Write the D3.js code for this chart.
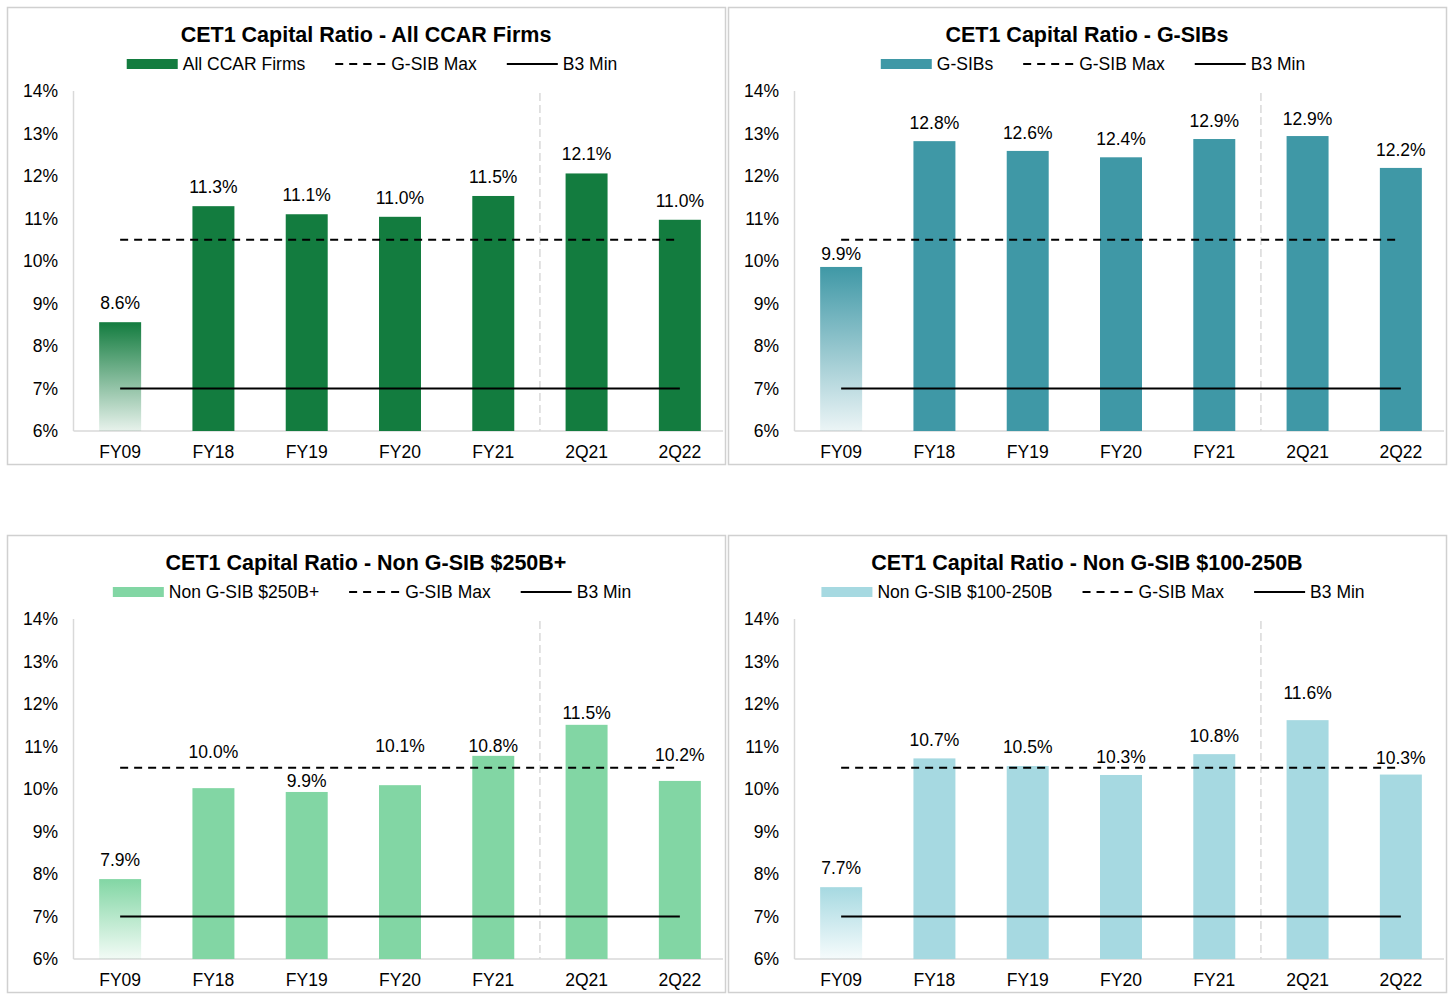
<!DOCTYPE html>
<html>
<head>
<meta charset="utf-8">
<title>CET1 Capital Ratio</title>
<script src="https://d3js.org/d3.v7.min.js"></script>
<style>
  body { margin:0; background:#fff; }
  text { font-family: "Liberation Sans", Arial, sans-serif; fill:#000; }
</style>
</head>
<body>
<script>
// data
var categories = ["FY09", "FY18", "FY19", "FY20", "FY21", "2Q21", "2Q22"];
var allCcar    = [8.56, 11.29, 11.10, 11.04, 11.53, 12.06, 10.97];
var gSibs      = [9.86, 12.82, 12.59, 12.44, 12.87, 12.94, 12.19];
var nonGsib250 = [7.88, 10.02, 9.93, 10.09, 10.78, 11.51, 10.19];
var nonGsib100 = [7.69, 10.72, 10.54, 10.33, 10.82, 11.62, 10.34];
var yTicks = [6, 7, 8, 9, 10, 11, 12, 13, 14];
var gsibMax = 10.5;
var b3Min = 7;
var seriesNames = ["All CCAR Firms", "G-SIBs", "Non G-SIB $250B+", "Non G-SIB $100-250B"];
var colors = ["#137c3f", "#3f98a6", "#82d6a4", "#a6d9e1"];

// label placement (px above bar top), hand-moved where they'd hit the dashed line
var labelLift = [
  [19, 19, 19, 19, 19, 19, 19],
  [13, 18, 18, 18, 18, 17, 18],
  [19, 36, 11, 39, 10, 12, 26],
  [19, 18, 19, 18, 18, 27, 17]
];

var panels = [
  {x: 7,   y: 7,   values: allCcar},
  {x: 728, y: 7,   values: gSibs},
  {x: 7,   y: 535, values: nonGsib250},
  {x: 728, y: 535, values: nonGsib100}
];

var W = 1450, H = 994, pw = 718, ph = 457;

var svg = d3.select("body").append("svg").attr("width", W).attr("height", H);
var defs = svg.append("defs");

var x = d3.scaleBand().domain(categories).range([66.5, 719.5]).paddingInner(0.55).paddingOuter(0.275);
var y = d3.scaleLinear().domain([6, 14]).range([424, 84]);
var fmt = function(v) { return (Math.round(v * 10) / 10).toFixed(1) + "%"; };

panels.forEach(function(p, i) {
  var g = svg.append("g").attr("transform", "translate(" + p.x + "," + p.y + ")");
  var col = colors[i];

  var grad = defs.append("linearGradient").attr("id", "grad" + i)
    .attr("x1", 0).attr("y1", 0).attr("x2", 0).attr("y2", 1);
  grad.append("stop").attr("offset", "0%").attr("stop-color", col).attr("stop-opacity", 1);
  grad.append("stop").attr("offset", "100%").attr("stop-color", col).attr("stop-opacity", 0.1);

  // frame
  g.append("rect").attr("x", 0.5).attr("y", 0.5).attr("width", pw).attr("height", ph)
    .attr("fill", "#fff").attr("stroke", "#d0d0d0").attr("stroke-width", 1.5);

  // title
  g.append("text").attr("x", pw / 2).attr("y", 35).attr("text-anchor", "middle")
    .style("font-size", "21.5px").style("font-weight", "bold")
    .text("CET1 Capital Ratio - " + seriesNames[i]);

  // legend
  var lg = g.append("g");
  var lx = 0;
  var items = [
    {type: "bar", label: seriesNames[i]},
    {type: "dash", label: "G-SIB Max"},
    {type: "line", label: "B3 Min"}
  ];
  items.forEach(function(it, k) {
    if (it.type == "bar") {
      lg.append("rect").attr("x", lx).attr("y", 52).attr("width", 51).attr("height", 10).attr("fill", col);
    } else {
      lg.append("line").attr("x1", lx).attr("x2", lx + 51).attr("y1", 57).attr("y2", 57)
        .attr("stroke", "#000").attr("stroke-width", 2)
        .attr("stroke-dasharray", it.type == "dash" ? "8,6" : null);
    }
    var t = lg.append("text").attr("x", lx + 56).attr("y", 63).style("font-size", "17.5px").text(it.label);
    lx += 56 + t.node().getComputedTextLength() + 30;
  });
  lx -= 30;
  lg.attr("transform", "translate(" + (pw / 2 + 6 - lx / 2) + ",0)");

  // axes lines
  g.append("line").attr("x1", 66.5).attr("x2", 66.5).attr("y1", 84).attr("y2", 424)
    .attr("stroke", "#d9d9d9").attr("stroke-width", 1.5);
  g.append("line").attr("x1", 66.5).attr("x2", 716).attr("y1", 424).attr("y2", 424)
    .attr("stroke", "#d9d9d9").attr("stroke-width", 1.5);

  // y tick labels
  g.selectAll(".ytick").data(yTicks).enter().append("text")
    .attr("x", 51).attr("y", function(d) { return y(d) + 6; })
    .attr("text-anchor", "end").style("font-size", "17.5px")
    .text(function(d) { return d + "%"; });

  // category labels
  g.selectAll(".xlab").data(categories).enter().append("text")
    .attr("x", function(d) { return x(d) + x.bandwidth() / 2; })
    .attr("y", 451).attr("text-anchor", "middle").style("font-size", "17.5px")
    .text(function(d) { return d; });

  // separator between annual and quarterly
  var sepX = (x("FY21") + x.bandwidth() + x("2Q21")) / 2;
  g.append("line").attr("x1", sepX).attr("x2", sepX).attr("y1", 86).attr("y2", 424)
    .attr("stroke", "#d9d9d9").attr("stroke-width", 1.5).attr("stroke-dasharray", "8,4");

  // bars
  g.selectAll(".bar").data(p.values).enter().append("rect")
    .attr("x", function(d, j) { return x(categories[j]); })
    .attr("y", function(d) { return y(d); })
    .attr("width", x.bandwidth())
    .attr("height", function(d) { return y(6) - y(d); })
    .attr("fill", function(d, j) { return j == 0 ? "url(#grad" + i + ")" : col; });

  // value labels
  g.selectAll(".val").data(p.values).enter().append("text")
    .attr("x", function(d, j) { return x(categories[j]) + x.bandwidth() / 2; })
    .attr("y", function(d, j) { return y(d) - labelLift[i][j] + 6; })
    .attr("text-anchor", "middle").style("font-size", "17.5px")
    .text(function(d) { return fmt(d); });

  // reference lines
  var x0 = x(categories[0]) + x.bandwidth() / 2;
  var x1 = x(categories[categories.length - 1]) + x.bandwidth() / 2;
  g.append("line").attr("x1", x0).attr("x2", x1).attr("y1", y(gsibMax)).attr("y2", y(gsibMax))
    .attr("stroke", "#000").attr("stroke-width", 2).attr("stroke-dasharray", "8,6");
  g.append("line").attr("x1", x0).attr("x2", x1).attr("y1", y(b3Min)).attr("y2", y(b3Min))
    .attr("stroke", "#000").attr("stroke-width", 2);
});
</script>
</body>
</html>
